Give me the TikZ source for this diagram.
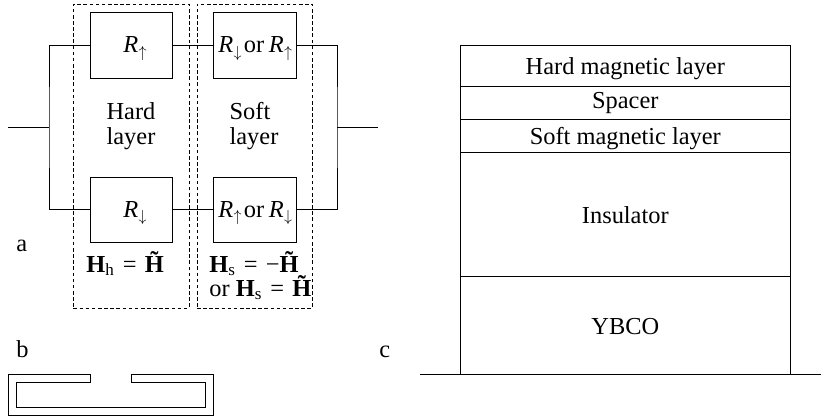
\documentclass[tikz,border=0pt]{standalone}
\usepackage{amsmath}
\usepackage{fontspec}
\setmainfont{Liberation Serif}
\usetikzlibrary{positioning}
\newcommand{\resbox}[5]{% x, y, name, text x, label
  \node[resbox] (#3) at (#1,#2) {};
  \node[txt,anchor=base west] (#3txt) at (#4,#2+7.4) {#5};}
\newcommand{\layerbox}[5]{% y, height, name, baseline drop, label
  \node[layerbox,minimum height=#2*0.75pt] (#3) at (625.3,#1) {};
  \node[txt,anchor=base] (#3txt) at (625.3,#1+#4) {#5};}
\newcommand{\Hb}{\textbf{H}}
\newcommand{\Ht}{\textbf{\~H}}
\newcommand{\Eq}{\kern1.6pt=\kern1.6pt}
\newcommand{\Rs}[1]{\textit{R}\kern0.3pt\raisebox{-3.5pt}{\fontsize{13}{13}\selectfont$#1$}}
\tikzset{
  resbox/.style={draw,minimum width=61.9pt,minimum height=49.2pt,inner sep=0},
  layerbox/.style={draw,minimum width=247pt,inner sep=0},
  dashbox/.style={draw,dash pattern=on 2.7pt off 1.9pt,minimum width=86.6pt,minimum height=228pt,inner sep=0},
  txt/.style={inner sep=0,align=left}
}
\begin{document}
\begin{tikzpicture}[x=0.75pt,y=-0.75pt,line width=0.6pt,font=\fontsize{18.3}{18.75}\selectfont]
  \useasboundingbox (0,0) rectangle (821,419);
  % ---- a, dashed layers ----
  \node[dashbox] (hardbox) at (131.2,156) {};
  \node[dashbox] (softbox) at (254.7,156) {};
  % ---- a, resistors ----
  \resbox{131.2}{45.2}{hup}{123}{\Rs{\uparrow}}
  \resbox{131.2}{209.8}{hdown}{123}{\Rs{\downarrow}}
  \resbox{254.7}{45.2}{sup}{218}{\Rs{\downarrow}\kern-3pt{} or\kern-1pt{} \Rs{\uparrow}}
  \resbox{254.7}{209.8}{sdown}{218}{\Rs{\uparrow}\kern-3pt{} or\kern-1pt{} \Rs{\downarrow}}
  \node[txt] (hardtxt) at (131,126) {Hard\\layer};
  \node[txt] (softtxt) at (254,126) {Soft\\layer};
  % ---- a, wires ----
  \coordinate (infree) at (8,127.5);
  \coordinate (injoin) at (49,127.5);
  \coordinate (outjoin) at (337,127.5);
  \coordinate (outfree) at (378,127.5);
  \draw (infree) -- (injoin);
  \draw (outjoin) -- (outfree);
  \draw (hup.west) -| (injoin) |- (hdown.west);
  \draw (sup.east) -| (outjoin) |- (sdown.east);
  \draw (hup) -- (sup);
  \draw (hdown) -- (sdown);
  % ---- a, fields ----
  \node[txt,anchor=base west] (hfield) at (86,272) {\Hb\textsubscript{h} \Eq{} \Ht};
  \node[txt,anchor=base west] (sfield) at (209,272) {\Hb\textsubscript{s} \Eq{} −\Ht};
  \node[txt,anchor=base west] (orfield) at (209,296) {or \Hb\textsubscript{s} \Eq{} \Ht};
  % ---- letters ----
  \node[txt,anchor=base west] (la) at (16,251) {a};
  \node[txt,anchor=base west] (lb) at (16,357.5) {b};
  \node[txt,anchor=base west] (lc) at (379,357.5) {c};
  % ---- b, slot ----
  \draw (90,374.5) -- (8,374.5) -- (8,415.5) -- (213,415.5) -- (213,374.5) -- (131,374.5)
    -- (131,382.5) -- (205,382.5) -- (205,407.5) -- (16,407.5) -- (16,382.5) -- (90,382.5) -- cycle;
  % ---- c, stack ----
  \layerbox{65.5}{41}{hard}{8.5}{Hard magnetic layer}
  \layerbox{102.5}{33}{spacer}{5.5}{Spacer}
  \layerbox{135.5}{33}{soft}{8.5}{Soft magnetic layer}
  \layerbox{214}{124}{insulator}{9}{Insulator}
  \layerbox{325}{98}{ybco}{9}{YBCO}
  % ground
  \coordinate (gleft) at (420,374);
  \coordinate (gright) at (821,374);
  \draw (gleft) -- (gright);
\end{tikzpicture}
\end{document}
